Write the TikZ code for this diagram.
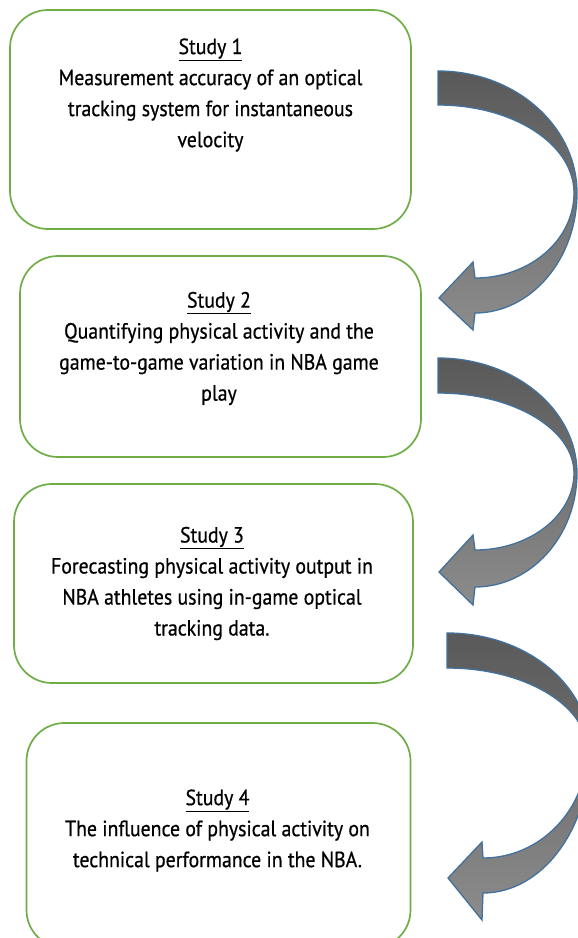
\documentclass[tikz,border=0pt]{standalone}
\usepackage{fontspec}
\setmainfont{PT Sans}[FakeStretch=0.9,FakeBold=0.6]
\definecolor{boxgreen}{HTML}{70AD47}
\definecolor{arrowedge}{HTML}{41719C}
\definecolor{arrowdark}{HTML}{595959}
\definecolor{arrowlight}{HTML}{8C8C8C}
\begin{document}
\begin{tikzpicture}[x=1pt,y=-1pt,
  studybox/.style={draw=boxgreen, line width=1.7pt, rounded corners=38pt, fill=white, inner sep=0pt},
  studytext/.style={align=center, font=\fontsize{22}{31}\selectfont, text=black, inner sep=0pt},
  curvearrow/.style={draw=arrowedge, line width=1.3pt, top color=arrowdark, bottom color=arrowlight, line join=miter}]
\useasboundingbox (0,0) rectangle (578,938);
\clip (0,0) rectangle (578,938);

% boxes
\node[studybox, minimum width=401pt, minimum height=219pt] (b1) at (210.5,119.5) {};
\node[studybox, minimum width=401pt, minimum height=201pt] (b2) at (220.5,356.5) {};
\node[studybox, minimum width=399pt, minimum height=199pt] (b3) at (213.5,583.5) {};
\node[studybox, minimum width=384pt, minimum height=225pt] (b4) at (218.5,835.5) {};

% texts
\node[studytext] (t1) at (210.5,95) {\underline{Study 1}\\Measurement accuracy of an optical\\tracking system for instantaneous\\velocity};
\node[studytext] (t2) at (219,348.5) {\underline{Study 2}\\Quantifying physical activity and the\\game-to-game variation in NBA game\\play};
\node[studytext] (t3) at (212,583.5) {\underline{Study 3}\\Forecasting physical activity output in\\NBA athletes using in-game optical\\tracking data.};
\node[studytext] (t4) at (217.5,830.5) {\underline{Study 4}\\The influence of physical activity on\\technical performance in the NBA.};

% curved block arrows
\path[curvearrow] (438,71) .. controls (515,71) and (577,126) .. (577,193)
  .. controls (577,259) and (531,313) .. (475,313)
  -- (473,330) -- (439,298) -- (473,262) -- (475,278)
  .. controls (530,278) and (574,240) .. (574,193)
  .. controls (574,144) and (513,105) .. (438,105) -- cycle;

\path[curvearrow] (438,358) .. controls (515,358) and (577,410) .. (577,473)
  .. controls (577,536) and (531,587) .. (475,587)
  -- (473,605) -- (439,572) -- (473,535) -- (475,550)
  .. controls (530,550) and (574,515) .. (574,473)
  .. controls (574,429) and (513,393) .. (438,393) -- cycle;

\path[curvearrow] (447,633) .. controls (526,633) and (590,685) .. (590,750)
  .. controls (590,829) and (542,893) .. (483,893)
  -- (482,920) -- (448,878) -- (482,842) -- (483,858)
  .. controls (540,858) and (587,810) .. (587,750)
  .. controls (587,705) and (524,668) .. (447,668) -- cycle;
\end{tikzpicture}
\end{document}
